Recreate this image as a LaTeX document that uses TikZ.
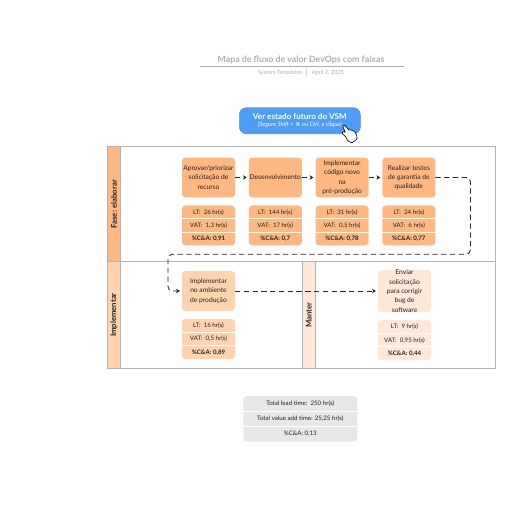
\documentclass[tikz,border=0pt]{standalone}
\usepackage{fontspec}
\setmainfont{Lato}
\newfontfamily\symfont{DejaVu Sans}
\usetikzlibrary{arrows.meta, positioning, shadows, calc}
\definecolor{laneline}{HTML}{B3B3B3}
\definecolor{elabfill}{HTML}{FFB882}
\definecolor{implfill}{HTML}{FFD3AD}
\definecolor{mantfill}{HTML}{FFE8D8}
\definecolor{btnfill}{HTML}{4D9DF8}
\definecolor{totfill}{HTML}{E8E8E8}
\definecolor{titlegray}{HTML}{A9AEB9}
\definecolor{inkgray}{HTML}{222222}
% one panel of three figures below a step
\newcommand{\metrics}[5]{%
  \node[panel, fill=#2, below=0.16cm of #1] (#1-p) {};
  \node[cell, below=0cm of #1-p.north] (#1-lt) {LT:\ \ #3 hr(s)};
  \node[cell, below=0cm of #1-lt] (#1-vat) {VAT:\ \ #4 hr(s)};
  \node[cell, below=0cm of #1-vat, font=\cellfont\bfseries] (#1-ca) {\%C\&A: #5};
  \draw[sep] (#1-lt.south west) -- (#1-lt.south east);
  \draw[sep] (#1-vat.south west) -- (#1-vat.south east);
}
\newcommand{\cellfont}{\fontsize{3.5}{4.4}\selectfont}
\begin{document}
\begin{tikzpicture}[x=0.02cm, y=-0.02cm,
    stepbox/.style={rounded corners=2pt, minimum width=1.06cm, minimum height=0.8cm, align=center, inner sep=0pt, outer sep=0pt, text=inkgray, font=\fontsize{3.8}{5.3}\selectfont},
    panel/.style={rounded corners=2pt, minimum width=1.06cm, minimum height=0.8cm, inner sep=0pt, outer sep=0pt},
    cell/.style={minimum width=1.06cm, minimum height=0.2667cm, inner sep=0pt, outer sep=0pt, text=inkgray, font=\cellfont},
    sep/.style={white, line width=0.45pt},
    lane/.style={draw=laneline, line width=0.55pt},
    lanehead/.style={draw=laneline, line width=0.55pt, minimum width=0.26cm, inner sep=0pt, outer sep=0pt},
    lanelbl/.style={rotate=90, font=\fontsize{4.4}{5}\selectfont\bfseries, text=inkgray},
    flow/.style={densely dashed, line width=0.5pt, black!85, -{Stealth[length=2.2pt, width=2.6pt]}, shorten >=1.2pt},
    totcell/.style={minimum width=2.28cm, minimum height=0.304cm, inner sep=0pt, outer sep=0pt, text=inkgray, font=\cellfont}]
  \useasboundingbox (0,0) rectangle (516,516);
  % title
  \node[font=\fontsize{5}{6}\selectfont\bfseries, text=titlegray] (title) at (301,60.3) {Mapa de fluxo de valor DevOps com faixas};
  \coordinate (ruleL) at (200,66.4);
  \coordinate (ruleR) at (404,66.4);
  \draw[titlegray, line width=0.5pt] (ruleL) -- (ruleR);
  \node[font=\fontsize{3.2}{4}\selectfont, text=titlegray] (sub) at (301,72.4) {System Templates \ $|$ \ April 2, 2025};
  % button
  \node[fill=btnfill, draw=btnfill!85!black, line width=0.2pt, rounded corners=4pt, minimum width=2.42cm, minimum height=0.52cm,
    drop shadow={shadow xshift=0.3pt, shadow yshift=-0.4pt, opacity=0.35}, text=white, align=center, inner sep=0pt, font=\fontsize{3.4}{4.3}\selectfont] (btn) at (299.8,120.7)
    {{\fontsize{4.6}{4.3}\selectfont\bfseries Ver estado futuro do VSM}\\{\itshape (Segure Shift + {\symfont\fontsize{3}{4.3}\selectfont ⌘} ou Ctrl, e clique)}};
  % swimlanes
  \draw[lane] (107.5,146.5) rectangle (495,261.8);
  \draw[lane] (107.5,261.8) rectangle (302.4,368.3);
  \draw[lane] (302.4,261.8) rectangle (495,368.3);
  \node[lanehead, fill=elabfill, minimum height=2.306cm] (laneA) at (114,204.15) {};
  \node[lanehead, fill=implfill, minimum height=2.13cm] (laneB) at (114,315.05) {};
  \node[lanehead, fill=mantfill, minimum height=2.13cm] (laneC) at (308.9,315.05) {};
  \node[lanelbl] at (laneA) {Fase: elaborar};
  \node[lanelbl] at (laneB) {Implementar};
  \node[lanelbl] at (laneC) {Manter};
  % steps
  \node[stepbox, fill=elabfill] (aprov) at (208.5,177.5) {Aprovar/priorizar\\solicitação de\\recurso};
  \node[stepbox, fill=elabfill, right=0.276cm of aprov] (desen) {Desenvolvimento};
  \node[stepbox, fill=elabfill, right=0.276cm of desen] (codigo) {Implementar\\código novo\\na\\pré-produção};
  \node[stepbox, fill=elabfill, right=0.276cm of codigo] (testes) {Realizar testes\\de garantia de\\qualidade};
  \node[stepbox, fill=implfill] (ambiente) at (208.5,291) {Implementar\\no ambiente\\de produção};
  \node[stepbox, fill=mantfill] (bug) at (404.5,291) {Enviar\\solicitação\\para corrigir\\bug de\\software};
  \metrics{aprov}{elabfill}{26}{1,3}{0,91}
  \metrics{desen}{elabfill}{144}{17}{0,7}
  \metrics{codigo}{elabfill}{31}{0,5}{0,78}
  \metrics{testes}{elabfill}{24}{6}{0,77}
  \metrics{ambiente}{implfill}{16}{0,5}{0,89}
  \metrics{bug}{mantfill}{9}{0,95}{0,44}
  % connectors
  \coordinate (turnR) at (470.5,254.2);
  \coordinate (turnL) at (168,291);
  \draw[flow] (aprov) -- (desen);
  \draw[flow] (desen) -- (codigo);
  \draw[flow] (codigo) -- (testes);
  \draw[flow, rounded corners=2.5pt] (testes.east) -| (turnR) -| (turnL) -- (ambiente.west);
  \draw[flow] (ambiente) -- (bug);
  % totals
  \node[panel, fill=totfill, minimum width=2.28cm, minimum height=0.912cm] (tot) at (300.3,418.8) {};
  \node[totcell, below=0cm of tot.north] (tot-lt) {Total lead time:\ \ 250 hr(s)};
  \node[totcell, below=0cm of tot-lt] (tot-vat) {Total value add time: 25,25 hr(s)};
  \node[totcell, below=0cm of tot-vat] (tot-ca) {\%C\&A: 0,13};
  \draw[sep] (tot-lt.south west) -- (tot-lt.south east);
  \draw[sep] (tot-vat.south west) -- (tot-vat.south east);
  % hand cursor
  \draw[black, fill=white, line width=0.35pt, rounded corners=0.5pt] (342.5,126) -- (344.5,125) -- (349,130) -- (352,130) -- (355,132) -- (357,136) -- (357,139) -- (352,143) -- (348,141) -- (345,136) -- (342,133.5) -- (343,131.5) -- (345.5,132.5) -- cycle;
\end{tikzpicture}
\end{document}
